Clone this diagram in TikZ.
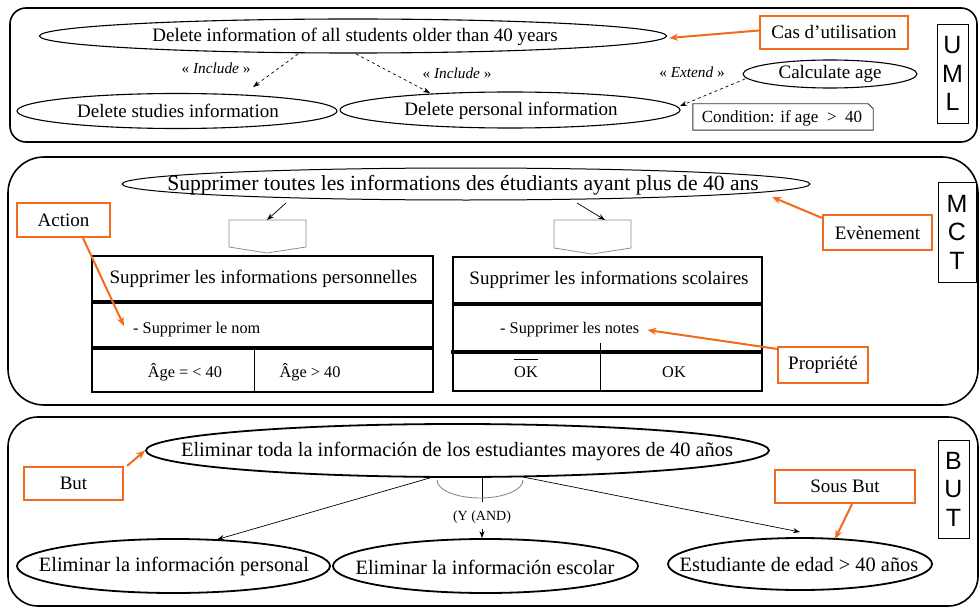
\documentclass[tikz,border=0pt]{standalone}
\usepackage{fontspec}
\setmainfont{Liberation Serif}
\newfontfamily\lsans{Liberation Sans}
\usetikzlibrary{shapes.geometric,arrows.meta,calc}
\definecolor{org}{RGB}{242,106,27}
\definecolor{pgray}{RGB}{140,140,140}
\begin{document}
\begin{tikzpicture}[x=1pt,y=-1pt,
  panel/.style={draw,line width=1.6pt},
  uc/.style={draw,ellipse,line width=1.1pt,inner sep=0pt},
  go/.style={draw,ellipse,line width=1.8pt,inner sep=0pt},
  obox/.style={draw=org,line width=2.2pt,inner sep=0pt,fill=white,font=\fontsize{19}{22}\selectfont},
  lbox/.style={draw,line width=0.9pt,inner sep=0pt,align=center,font=\lsans\fontsize{25}{28.5}\selectfont},
  tA/.style={inner sep=0pt,font=\fontsize{19}{22}\selectfont},
  tB/.style={inner sep=0pt,font=\fontsize{21.6}{24}\selectfont},
  tC/.style={inner sep=0pt,font=\fontsize{20.4}{24}\selectfont},
  tS/.style={inner sep=0pt,font=\fontsize{16.3}{19}\selectfont},
  tI/.style={inner sep=0pt,font=\fontsize{15.3}{18}\selectfont},
  tN/.style={inner sep=0pt,font=\fontsize{17}{20}\selectfont},
  tand/.style={inner sep=0pt,font=\fontsize{14}{16}\selectfont},
  darr/.style={dashed,line width=0.7pt,-{Stealth[length=7pt,width=5pt]}},
  tarr/.style={line width=0.7pt,-{Stealth[length=7pt,width=5pt]}},
  oarr/.style={draw=org,line width=2pt,-{Stealth[length=9pt,width=7pt]}},
  thick3/.style={line width=3.2pt},
  tframe/.style={draw,line width=1.5pt}
]
\useasboundingbox (0,0) rectangle (979,607);

% ---------------- panels ----------------
\draw[panel,rounded corners=16pt] (10,8) rectangle (977,142);
\draw[panel,rounded corners=36pt] (8,157) rectangle (978,405);
\draw[panel,rounded corners=30pt] (8,417) rectangle (978,606);

% ---------------- UML ----------------
\node[uc,minimum width=627pt,minimum height=34pt] (u1) at (353,36) {};
\node[tA] (u1t) at (355,37) {Delete information of all students older than 40 years};
\node[uc,minimum width=320pt,minimum height=35pt] (u2) at (177,111) {};
\node[tA] (u2t) at (178,111) {Delete studies information};
\node[uc,minimum width=340pt,minimum height=36pt] (u3) at (510,110) {};
\node[tA] (u3t) at (511,111) {Delete personal information};
\node[uc,minimum width=174pt,minimum height=28pt] (ca) at (830,74) {};
\node[tA] (cat) at (830,74) {Calculate age};

\node[tI] (inc1) at (216,68) {«~\textit{Include}~»};
\node[tI] (inc2) at (457,73) {«~\textit{Include}~»};
\node[tI] (ext) at (692,72) {«~\textit{Extend}~»};

\draw[darr] ($(u1)+(-55,18)$) -- ($(u2)+(76,-24)$);
\draw[darr] ($(u1)+(3,18)$) -- ($(u3)+(-80,-17)$);
\draw[darr] ($(ca)+(-85,5)$) -- ($(u3)+(170,-4)$);

\node[minimum width=180pt,minimum height=26pt,inner sep=0pt] (cond) at (783,117) {};
\draw[line width=0.9pt,draw=black!80] (cond.south west) -- (cond.north west) -- ([xshift=-5pt]cond.north east) -- ([yshift=-5pt]cond.north east) -- (cond.south east) -- cycle;
\node[tN] (condt) at (782,118) {Condition: if age~~>~~40};

\node[obox,minimum width=148pt,minimum height=33pt] (cas) at (834,32.5) {Cas d’utilisation};
\draw[oarr] ($(cas.west)+(0,-2)$) -- ($(u1.east)+(2,2)$);

\node[lbox,minimum width=31pt,minimum height=99pt] (uml) at (952.5,73.5) {U\\M\\L};

% ---------------- MCT ----------------
\node[uc,line width=1pt,minimum width=688pt,minimum height=32pt] (m1) at (466,184) {};
\node[tB] (m1t) at (463,185) {Supprimer toutes les informations des étudiants ayant plus de 40 ans};

\coordinate (p1) at (267,220);
\coordinate (p2) at (605,220);
\draw[pgray,line width=0.8pt] (229,220) -- (306,220) -- (306,247) -- (267,253) -- (229,247) -- cycle;
\draw[pgray,line width=0.8pt] (554,220) -- (631,220) -- (631,248) -- (592,254) -- (554,248) -- cycle;
\draw[tarr] ($(m1)+(-180,19)$) -- (p1);
\draw[tarr] ($(m1)+(111,19)$) -- (p2);

% left table
\draw[tframe] (92,256) rectangle (433,392);
\draw[thick3] (92,302) -- (433,302);
\draw[thick3] (92,348) -- (433,348);
\draw[line width=1pt] (254,348) -- (254,392);
\node[tA] (t1) at (263.5,279) {Supprimer les informations personnelles};
\node[tS,anchor=west] (nom) at (133,330) {- Supprimer le nom};
\node[tS] (a1) at (185,372) {Âge = < 40};
\node[tS] (a2) at (310,372) {Âge > 40};

% right table
\draw[tframe] (453,257) rectangle (762,391);
\draw[thick3] (453,304) -- (762,304);
\draw[thick3] (451,352) -- (762,352);
\draw[line width=1pt] (600,343) -- (600,391);
\node[tA] (t2) at (609,280) {Supprimer les informations scolaires};
\node[tS,anchor=west] (notes) at (500,330) {- Supprimer les notes};
\node[tS] (ok1) at (526,372) {OK};
\draw[line width=1.4pt] ($(ok1.north west)+(0,-7)$) -- ($(ok1.north east)+(0,-7)$);
\node[tS] (ok2) at (674,372) {OK};

\node[obox,minimum width=93pt,minimum height=34pt] (act) at (63.5,220) {Action};
\draw[oarr] ($(act.south)+(19.5,0)$) -- ($(nom.west)+(-9,-4)$);
\node[obox,minimum width=109pt,minimum height=35pt] (evt) at (877.5,232.5) {Evènement};
\draw[oarr] ($(evt.north west)+(0,4)$) -- ($(m1)+(306,13)$);
\node[obox,minimum width=90pt,minimum height=36pt] (prop) at (823,365) {Propriété};
\draw[oarr] ($(prop.north west)+(0,3)$) -- ($(notes.east)+(8,0)$);

\node[lbox,minimum width=38pt,minimum height=100pt] (mct) at (957,232) {M\\C\\T};

% ---------------- BUT ----------------
\node[go,minimum width=623pt,minimum height=53pt] (b1) at (457.5,450.5) {};
\node[tC] (b1t) at (457,452) {Eliminar toda la información de los estudiantes mayores de 40 años};
\node[go,minimum width=313pt,minimum height=54pt] (b2) at (173.5,566) {};
\node[tC] (b2t) at (174,566) {Eliminar la información personal};
\node[go,minimum width=305pt,minimum height=54pt] (b3) at (485.5,566) {};
\node[tC] (b3t) at (485,567) {Eliminar la información escolar};
\node[go,minimum width=264pt,minimum height=52pt] (b4) at (800,564) {};
\node[tC] (b4t) at (799,565) {Estudiante de edad > 40 años};

\draw[tarr] ($(b1)+(-24.5,26.5)$) -- ($(b2)+(43.5,-26.5)$);
\draw[tarr] ($(b1)+(65.5,26.5)$) -- ($(b4)+(0,-32)$);
\draw[line width=0.8pt] ($(b1)+(24.5,26.5)$) -- ++(0,24.5);
\draw[pgray,line width=0.9pt] (437,480) arc[start angle=180,end angle=0,x radius=43,y radius=18];
\node[tand] (and) at (482,517) {(Y (AND)};
\draw[tarr] ([yshift=-5pt]and.south) -- (b3.north -| and.south);

\node[obox,minimum width=99pt,minimum height=33pt] (but) at (73.5,483.5) {But};
\draw[oarr] ($(but.north east)+(3,0)$) -- (b1.west);
\node[obox,minimum width=140pt,minimum height=33pt] (sbut) at (845,486.5) {Sous But};
\draw[oarr] ($(sbut.south)+(7,0)$) -- ($(b4)+(35,-25)$);

\node[lbox,minimum width=31pt,minimum height=98pt] (butl) at (953.5,489) {B\\U\\T};
\end{tikzpicture}
\end{document}
